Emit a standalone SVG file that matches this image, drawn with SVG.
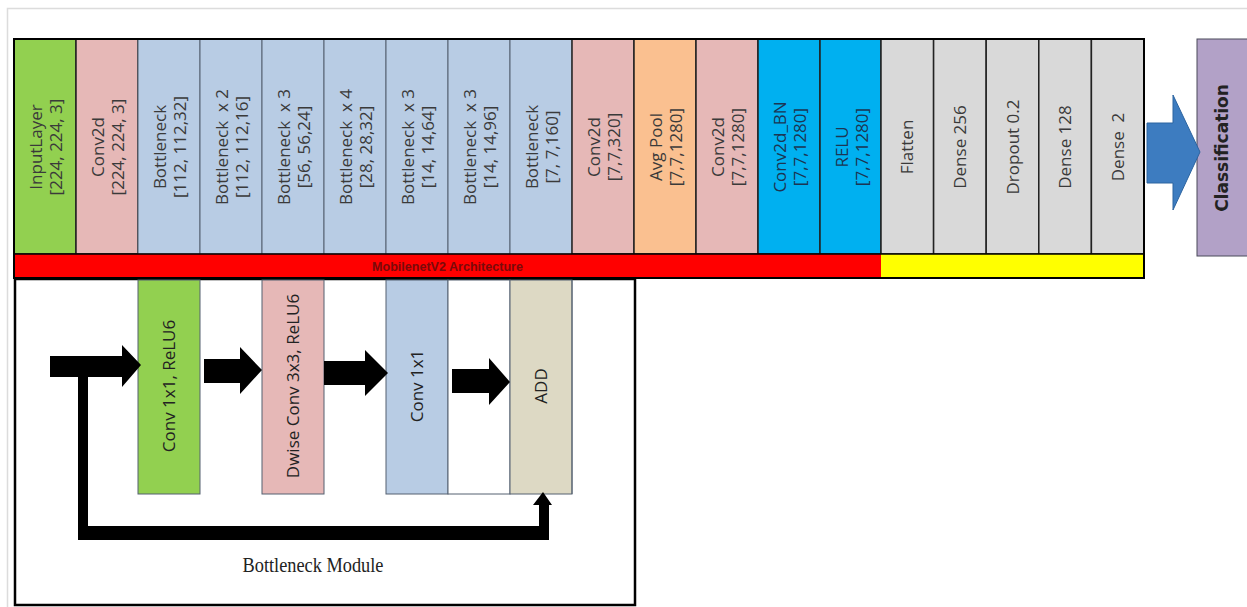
<svg xmlns="http://www.w3.org/2000/svg" width="1247" height="607" viewBox="0 0 1247 607">
  <style>
    .lbl { font-family: "Open Sans", "DejaVu Sans", sans-serif; font-size: 17px; fill: #3a3a3a; text-anchor: middle; white-space: pre; }
    .dark { fill: #1c3553; }
    .ink { fill: #222; }
    .cls { font-family: "DejaVu Sans", "Liberation Sans", sans-serif; font-size: 17px; font-weight: bold; fill: #222; text-anchor: middle; }
    .bar { font-family: "Liberation Sans", "DejaVu Sans", sans-serif; font-size: 12px; font-weight: bold; fill: #7a0a0a; text-anchor: middle; }
    .cap { font-family: "Liberation Serif", "DejaVu Serif", serif; font-size: 20px; fill: #222; text-anchor: middle; }
    .col { stroke: #222; stroke-width: 1.5; }
    .thin { stroke: #556070; stroke-width: 1; }
    .green { fill: #92D050; }
    .pink { fill: #E6B8B7; }
    .blue { fill: #B8CCE4; }
    .orange { fill: #FAC090; }
    .cyan { fill: #00B0F0; }
    .grey { fill: #D9D9D9; }
    .tan { fill: #DDD9C4; }
    .blk { fill: #000; }
  </style>

  <!-- page frame -->
  <polyline points="7.5,607 7.5,8.5 1247,8.5" fill="none" stroke="#dcdcdc" stroke-width="1.5"/>

  <!-- MobileNetV2 layer stack -->
  <g id="layers">
    <g id="input-layer">
      <rect class="green col" x="14" y="39" width="62" height="215"/>
      <g transform="translate(45,147) rotate(-90)"><text class="lbl" y="-3">InputLayer</text><text class="lbl" y="17">[224, 224, 3]</text></g>
    </g>
    <g id="conv2d-1">
      <rect class="pink col" x="76" y="39" width="62" height="215"/>
      <g transform="translate(107,147) rotate(-90)"><text class="lbl" y="-3">Conv2d</text><text class="lbl" y="17">[224, 224, 3]</text></g>
    </g>
    <g id="bottleneck-1">
      <rect class="blue thin" x="138" y="39" width="62" height="215"/>
      <g transform="translate(169,147) rotate(-90)"><text class="lbl" y="-3">Bottleneck</text><text class="lbl" y="17">[112, 112,32]</text></g>
    </g>
    <g id="bottleneck-2">
      <rect class="blue thin" x="200" y="39" width="62" height="215"/>
      <g transform="translate(231,147) rotate(-90)"><text class="lbl" y="-3">Bottleneck  x 2</text><text class="lbl" y="17">[112, 112,16]</text></g>
    </g>
    <g id="bottleneck-3">
      <rect class="blue thin" x="262" y="39" width="62" height="215"/>
      <g transform="translate(293,147) rotate(-90)"><text class="lbl" y="-3">Bottleneck  x 3</text><text class="lbl" y="17">[56, 56,24]</text></g>
    </g>
    <g id="bottleneck-4">
      <rect class="blue thin" x="324" y="39" width="62" height="215"/>
      <g transform="translate(355,147) rotate(-90)"><text class="lbl" y="-3">Bottleneck  x 4</text><text class="lbl" y="17">[28, 28,32]</text></g>
    </g>
    <g id="bottleneck-5">
      <rect class="blue thin" x="386" y="39" width="62" height="215"/>
      <g transform="translate(417,147) rotate(-90)"><text class="lbl" y="-3">Bottleneck  x 3</text><text class="lbl" y="17">[14, 14,64]</text></g>
    </g>
    <g id="bottleneck-6">
      <rect class="blue thin" x="448" y="39" width="62" height="215"/>
      <g transform="translate(479,147) rotate(-90)"><text class="lbl" y="-3">Bottleneck  x 3</text><text class="lbl" y="17">[14, 14,96]</text></g>
    </g>
    <g id="bottleneck-7">
      <rect class="blue thin" x="510" y="39" width="62" height="215"/>
      <g transform="translate(541,147) rotate(-90)"><text class="lbl" y="-3">Bottleneck</text><text class="lbl" y="17">[7, 7,160]</text></g>
    </g>
    <g id="conv2d-2">
      <rect class="pink col" x="572" y="39" width="62" height="215"/>
      <g transform="translate(603,147) rotate(-90)"><text class="lbl" y="-3">Conv2d</text><text class="lbl" y="17">[7,7,320]</text></g>
    </g>
    <g id="avg-pool">
      <rect class="orange col" x="634" y="39" width="62" height="215"/>
      <g transform="translate(665,147) rotate(-90)"><text class="lbl" y="-3">Avg Pool</text><text class="lbl" y="17">[7,7,1280]</text></g>
    </g>
    <g id="conv2d-3">
      <rect class="pink col" x="696" y="39" width="62" height="215"/>
      <g transform="translate(727,147) rotate(-90)"><text class="lbl" y="-3">Conv2d</text><text class="lbl" y="17">[7,7,1280]</text></g>
    </g>
    <g id="conv2d-bn">
      <rect class="cyan col" x="758" y="39" width="62" height="215"/>
      <g transform="translate(789,147) rotate(-90)"><text class="lbl dark" y="-3">Conv2d_BN</text><text class="lbl dark" y="17">[7,7,1280]</text></g>
    </g>
    <g id="relu">
      <rect class="cyan col" x="820" y="39" width="61" height="215"/>
      <g transform="translate(850.5,147) rotate(-90)"><text class="lbl dark" y="-3">RELU</text><text class="lbl dark" y="17">[7,7,1280]</text></g>
    </g>
    <g id="flatten">
      <rect class="grey col" x="881" y="39" width="52.6" height="215"/>
      <g transform="translate(907.3,147) rotate(-90)"><text class="lbl" y="6">Flatten</text></g>
    </g>
    <g id="dense-256">
      <rect class="grey col" x="933.6" y="39" width="52.6" height="215"/>
      <g transform="translate(959.9,147) rotate(-90)"><text class="lbl" y="6">Dense 256</text></g>
    </g>
    <g id="dropout">
      <rect class="grey col" x="986.2" y="39" width="52.6" height="215"/>
      <g transform="translate(1012.5,147) rotate(-90)"><text class="lbl" y="6">Dropout 0.2</text></g>
    </g>
    <g id="dense-128">
      <rect class="grey col" x="1038.8" y="39" width="52.6" height="215"/>
      <g transform="translate(1065.1,147) rotate(-90)"><text class="lbl" y="6">Dense 128</text></g>
    </g>
    <g id="dense-2">
      <rect class="grey col" x="1091.4" y="39" width="52.6" height="215"/>
      <g transform="translate(1117.7,147) rotate(-90)"><text class="lbl" y="6">Dense  2</text></g>
    </g>

    <!-- section bars -->
    <g id="mobilenet-bar">
      <rect x="14" y="254" width="867" height="24" fill="#FF0000"/>
      <text class="bar" x="447.5" y="271" textLength="151" lengthAdjust="spacingAndGlyphs">MobilenetV2 Architecture</text>
    </g>
    <g id="head-bar">
      <rect x="881" y="254" width="263" height="24" fill="#FFFF00"/>
    </g>
    <!-- outer frame of the stack -->
    <rect x="14" y="39" width="1130" height="239" fill="none" stroke="#000" stroke-width="2"/>
    <line x1="14" y1="254" x2="1144" y2="254" stroke="#000" stroke-width="1.5"/>
  </g>

  <!-- classification output -->
  <g id="classification">
    <rect x="1197" y="39" width="55" height="217" fill="#B2A1C7" stroke="#4a4a5a" stroke-width="1"/>
    <g transform="translate(1222,148) rotate(-90)"><text class="cls" y="6">Classification</text></g>
  </g>

  <!-- bottleneck module detail -->
  <g id="bottleneck-module">
    <rect x="15" y="279" width="620" height="326" fill="#fff" stroke="#000" stroke-width="2.5"/>
    <g id="bm-conv1x1">
      <rect class="green thin" x="138" y="280" width="62" height="214"/>
      <g transform="translate(169,386) rotate(-90)"><text class="lbl ink" y="6">Conv 1x1, ReLU6</text></g>
    </g>
    <g id="bm-dwise">
      <rect class="pink thin" x="262" y="280" width="62" height="214"/>
      <g transform="translate(293,386) rotate(-90)"><text class="lbl ink" y="6">Dwise Conv 3x3, ReLU6</text></g>
    </g>
    <g id="bm-conv1x1-linear">
      <rect class="blue thin" x="386" y="280" width="62" height="214"/>
      <g transform="translate(417,386) rotate(-90)"><text class="lbl ink" y="6">Conv 1x1</text></g>
    </g>
    <g id="bm-gap">
      <rect x="448" y="280" width="62" height="214" fill="#fff" class="thin"/>
    </g>
    <g id="bm-add">
      <rect class="tan thin" x="510" y="280" width="62" height="214"/>
      <g transform="translate(541,386) rotate(-90)"><text class="lbl ink" y="6">ADD</text></g>
    </g>
    <line x1="572" y1="280" x2="572" y2="494" stroke="#556070" stroke-width="1"/>
    <text class="cap" x="313" y="572" textLength="141" lengthAdjust="spacingAndGlyphs">Bottleneck Module</text>
  </g>

  <!-- connectors -->
  <g id="connectors">
    <polygon class="blk" points="50,356 122,356 122,345 141,365 122,387 122,377 50,377"/>
    <polygon class="blk" points="204,359 240,359 240,347 262,370 240,394 240,383 204,383"/>
    <polygon class="blk" points="324,361 365,361 365,350 388,373 365,396 365,385 324,385"/>
    <polygon class="blk" points="452,369 489,369 489,358 510,382 489,405 489,393 452,393"/>
    <!-- residual skip path into ADD -->
    <polygon class="blk" points="78,376 88,376 88,526 539,526 539,505 533,505 543,492 552,505 549,505 549,540 78,540"/>
    <!-- head to classification -->
    <polygon points="1147,123 1173,123 1173,95 1200,152 1173,210 1173,183 1147,183" fill="#3D7CC0" stroke="#2C64A0" stroke-width="1"/>
  </g>
</svg>
